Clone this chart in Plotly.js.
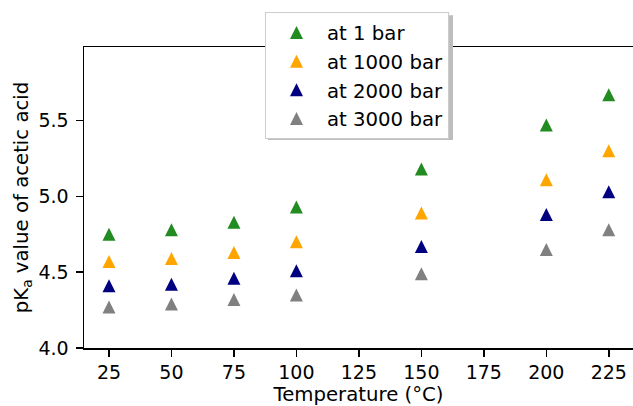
<!DOCTYPE html>
<html>
<head>
<meta charset="utf-8">
<script src="https://cdn.plot.ly/plotly-3.0.1.min.js"></script>
<style>
  html, body { margin: 0; padding: 0; background: #ffffff; }
  #chart { width: 633px; height: 406px; }
</style>
</head>
<body>
<div id="chart"></div>
<script>
// Temperatures (°C) at which pKa of acetic acid was evaluated
const temperature = [25, 50, 75, 100, 150, 200, 225];

// pKa values for each pressure
const pka1bar    = [4.75, 4.78, 4.83, 4.93, 5.18, 5.47, 5.67];
const pka1000bar = [4.57, 4.59, 4.63, 4.70, 4.89, 5.11, 5.30];
const pka2000bar = [4.41, 4.42, 4.46, 4.51, 4.67, 4.88, 5.03];
const pka3000bar = [4.27, 4.29, 4.32, 4.35, 4.49, 4.65, 4.78];

const seriesNames  = ['at 1 bar', 'at 1000 bar', 'at 2000 bar', 'at 3000 bar'];
const seriesValues = [pka1bar, pka1000bar, pka2000bar, pka3000bar];
const seriesColors = ['#228b22', '#ffa500', '#000080', '#808080'];

const xTicks = [25, 50, 75, 100, 125, 150, 175, 200, 225];
const yTicks = [4.0, 4.5, 5.0, 5.5];

const FONT = 'DejaVu Sans, sans-serif';
const TICK_SIZE = 19;
const LABEL_SIZE = 19.7;
const MS = 13;

// Upright, equal-sided triangles centred on each data point:
// the arrow shape is rotated and pushed back by half its size.
const dataTraces = seriesValues.map((vals, i) => ({
  type: 'scatter',
  mode: 'markers',
  name: seriesNames[i],
  x: temperature,
  y: vals,
  showlegend: false,
  marker: {
    symbol: 'arrow-down',
    angle: 180,
    standoff: MS / 2,
    size: MS,
    color: seriesColors[i],
    line: { width: 0 }
  },
  hoverinfo: 'x+y+name'
}));

// Legend entries (legend symbols apply the standoff in the opposite sense)
const legendTraces = seriesNames.map((name, i) => ({
  type: 'scatter',
  mode: 'markers',
  name: name,
  x: [null],
  y: [null],
  showlegend: true,
  marker: {
    symbol: 'arrow-up',
    angle: 0,
    standoff: MS / 2,
    size: MS,
    color: seriesColors[i],
    line: { width: 0 }
  },
  hoverinfo: 'skip'
}));

const legendLeft = 265, legendTop = 12.3;

const layout = {
  width: 633,
  height: 406,
  margin: { l: 84, r: 0, t: 47, b: 58, pad: 0 },
  paper_bgcolor: '#ffffff',
  plot_bgcolor: '#ffffff',
  font: { family: FONT, size: LABEL_SIZE, color: '#000000' },
  showlegend: true,
  legend: {
    x: (legendLeft - 84) / 549, y: (348 - legendTop) / 301, xanchor: 'left', yanchor: 'top',
    bgcolor: '#ffffff',
    bordercolor: '#cccccc',
    borderwidth: 1,
    font: { family: FONT, size: LABEL_SIZE, color: '#000000' },
    itemwidth: 51,
    entrywidth: 124,
    entrywidthmode: 'pixels'
  },
  xaxis: {
    range: [15, 234.7],
    tickvals: xTicks,
    ticktext: xTicks.map(String),
    ticks: 'outside', ticklen: 7, tickwidth: 1.5, tickcolor: '#000000',
    showline: true, linecolor: '#000000', linewidth: 1.5, mirror: true,
    showgrid: false, zeroline: false,
    tickfont: { family: FONT, size: TICK_SIZE, color: '#000000' },
    title: { text: 'Temperature (°C)', font: { family: FONT, size: LABEL_SIZE, color: '#000000' }, standoff: 9 }
  },
  yaxis: {
    range: [4.0, 5.985],
    tickvals: yTicks,
    ticktext: yTicks.map(v => v.toFixed(1)),
    ticks: 'outside', ticklen: 7, tickwidth: 1.5, tickcolor: '#000000',
    ticklabelstandoff: 3,
    showline: true, linecolor: '#000000', linewidth: 1.5, mirror: false,
    showgrid: false, zeroline: false,
    tickfont: { family: FONT, size: TICK_SIZE, color: '#000000' },
    title: { text: 'pK<sub>a</sub> value of acetic acid', font: { family: FONT, size: LABEL_SIZE, color: '#000000' }, standoff: 4 }
  },
  shapes: [
    // drop shadow under the legend box
    {
      type: 'rect', xref: 'paper', yref: 'paper', layer: 'above',
      x0: (268 - 84) / 549, x1: (453 - 84) / 549,
      y0: (348 - 140) / 301, y1: (348 - 15.3) / 301,
      fillcolor: '#bdbdbd', line: { width: 0 }
    }
  ]
};

Plotly.newPlot('chart', dataTraces.concat(legendTraces), layout, { staticPlot: true, displayModeBar: false });
</script>
</body>
</html>
